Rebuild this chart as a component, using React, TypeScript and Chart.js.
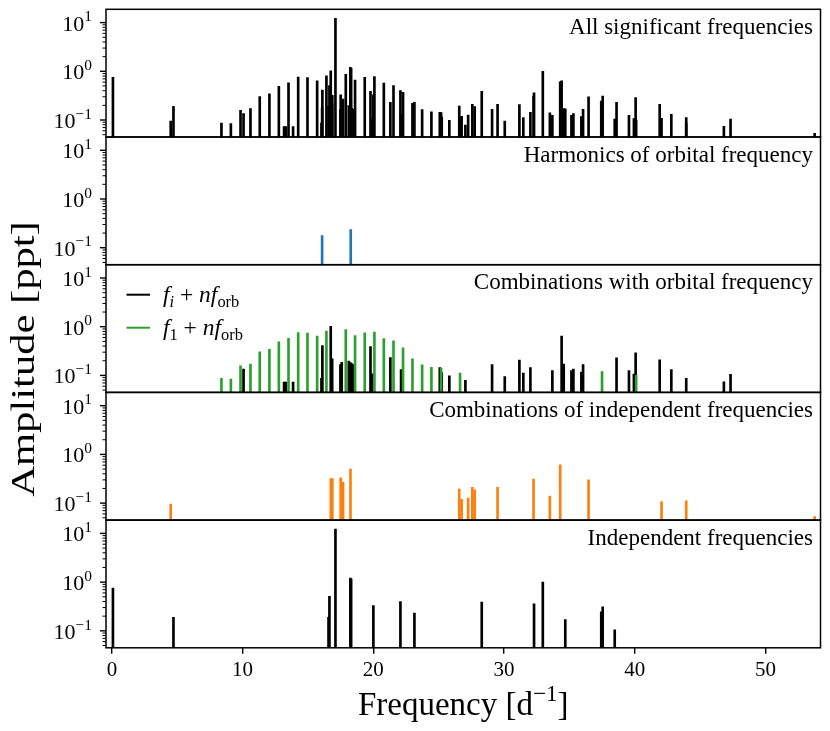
import React, { useEffect, useRef } from 'react';
import { Chart, registerables } from 'chart.js';

Chart.register(...registerables);

// ---------------- data ----------------
const panelTitles = [
  'All significant frequencies',
  'Harmonics of orbital frequency',
  'Combinations with orbital frequency',
  'Combinations of independent frequencies',
  'Independent frequencies',
];

// Harmonics of orbital frequency (blue)
const harmonicsFreq = [16.08, 18.27];
const harmonicsAmp = [0.177, 0.235];

// Combinations with orbital frequency: f_i + n f_orb (black)
const combOrbFreq = [
  10.07, 13.17, 13.3, 13.86, 16.03, 16.1, 16.74, 16.85, 17.48, 17.58, 18.12, 18.22, 18.35, 18.5,
  19.78, 19.9, 21.3, 22.12, 25.08, 25.23, 25.81, 27.04, 29.08, 30.05, 31.17, 31.47, 32.01, 33.69,
  34.4, 34.56, 35.15, 35.3, 35.91, 36.04, 38.6, 39.55, 39.93, 40.06, 41.9, 42.79, 43.93, 46.81, 47.32,
];
const combOrbAmp = [
  0.135, 0.073, 0.073, 0.073, 0.087, 0.41, 1.02, 0.218, 0.166, 0.186, 0.198, 0.186, 0.174, 0.166,
  0.39, 0.108, 0.232, 0.131, 0.144, 0.115, 0.098, 0.079, 0.166, 0.095, 0.207, 0.112, 0.144, 0.125,
  0.64, 0.171, 0.125, 0.135, 0.117, 0.166, 0.23, 0.125, 0.107, 0.29, 0.21, 0.131, 0.087, 0.074, 0.105,
];

// Combinations with orbital frequency: f_1 + n f_orb (green)
const combF1Freq = [
  8.38, 9.1, 9.84, 10.6, 11.31, 12.05, 12.77, 13.51, 14.25, 14.96, 15.7, 16.41, 17.89, 18.6, 19.34,
  20.08, 20.8, 21.54, 22.27, 22.99, 23.73, 24.44, 25.18, 26.63, 37.49, 40.1,
];
const combF1Amp = [
  0.087, 0.084, 0.158, 0.171, 0.304, 0.345, 0.49, 0.58, 0.76, 0.74, 0.64, 0.81, 0.87, 0.66, 0.75,
  0.78, 0.57, 0.51, 0.37, 0.22, 0.164, 0.147, 0.142, 0.112, 0.12, 0.1,
];

// Combinations of independent frequencies (orange)
const combIndFreq = [
  4.5, 16.75, 16.86, 17.5, 17.68, 18.25, 26.57, 26.75, 27.25, 27.57, 27.75, 29.5, 32.25, 33.5,
  34.29, 36.46, 42.04, 43.93, 53.75,
];
const combIndAmp = [
  0.095, 0.32, 0.32, 0.33, 0.27, 0.5, 0.194, 0.119, 0.127, 0.21, 0.188, 0.21, 0.31, 0.14,
  0.61, 0.3, 0.108, 0.112, 0.053,
];

// Independent frequencies (black)
const indepFreq = [
  0.08, 4.71, 16.57, 16.64, 17.1, 18.24, 18.3, 20.0, 22.07, 23.14, 28.29, 32.29, 32.96, 34.68,
  37.43, 37.54, 38.46,
];
const indepAmp = [
  0.75, 0.19, 0.19, 0.51, 12.3, 1.21, 1.15, 0.33, 0.4, 0.23, 0.39, 0.36, 1.0, 0.17,
  0.245, 0.31, 0.105,
];

// All significant frequencies = union of the above
const allFreq = [...harmonicsFreq, ...combOrbFreq, ...combF1Freq, ...combIndFreq, ...indepFreq];
const allAmp = [...harmonicsAmp, ...combOrbAmp, ...combF1Amp, ...combIndAmp, ...indepAmp];

const xTickValues = [0, 10, 20, 30, 40, 50];
const yMajorTicks = [0.1, 1, 10];
const yMajorExp = ['\u22121', '0', '1'];
const yMinorTicks = [
  0.05, 0.06, 0.07, 0.08, 0.09, 0.2, 0.3, 0.4, 0.5, 0.6, 0.7, 0.8, 0.9, 2, 3, 4, 5, 6, 7, 8, 9,
];

// ---------------- layout / style ----------------
const W = 830;
const H = 731;
const PLOT_LEFT = 106;
const PLOT_RIGHT = 820.5;
const PLOT_TOP = 9.3;
const PLOT_BOTTOM = 647.8;
const X_AXIS_H = 40;
const X_MIN = -0.45;
const X_MAX = 54.2;
const Y_MIN = 0.0448;
const Y_MAX = 18.75;
const FONT = '"Liberation Serif", "Times New Roman", serif';

const BLACK = '#000000';
const BLUE = '#1f77b4';
const ORANGE = '#ff7f0e';
const GREEN = '#2ca02c';

type Series = { freq: number[]; amp: number[]; color: string };
type Seg = { t: string; it?: boolean; sub?: boolean; sup?: boolean };

const panelSeries: Series[][] = [
  [{ freq: allFreq, amp: allAmp, color: BLACK }],
  [{ freq: harmonicsFreq, amp: harmonicsAmp, color: BLUE }],
  [
    { freq: combF1Freq, amp: combF1Amp, color: GREEN },
    { freq: combOrbFreq, amp: combOrbAmp, color: BLACK },
  ],
  [{ freq: combIndFreq, amp: combIndAmp, color: ORANGE }],
  [{ freq: indepFreq, amp: indepAmp, color: BLACK }],
];

function drawSegs(
  ctx: CanvasRenderingContext2D,
  segs: Seg[],
  x: number,
  y: number,
  size: number,
  align: 'left' | 'center' | 'right',
) {
  const fontFor = (s: Seg) =>
    `${s.it ? 'italic ' : ''}${s.sub || s.sup ? size * 0.7 : size}px ${FONT}`;
  let total = 0;
  const widths = segs.map((s) => {
    ctx.font = fontFor(s);
    const w = ctx.measureText(s.t).width;
    total += w;
    return w;
  });
  let cx = align === 'left' ? x : align === 'center' ? x - total / 2 : x - total;
  ctx.textAlign = 'left';
  ctx.textBaseline = 'alphabetic';
  segs.forEach((s, i) => {
    ctx.font = fontFor(s);
    const dy = s.sub ? size * 0.22 : s.sup ? -size * 0.42 : 0;
    ctx.fillText(s.t, cx, y + dy);
    cx += widths[i];
  });
}

function makeDecor(index: number, isBottom: boolean) {
  return {
    id: 'decor' + index,
    afterDraw(chart: any) {
      const ctx: CanvasRenderingContext2D = chart.ctx;
      const { left, right, top, bottom } = chart.chartArea;
      const ys = chart.scales.y;
      ctx.save();
      ctx.fillStyle = '#000';
      ctx.strokeStyle = '#000';

      // frame
      ctx.lineWidth = 1.5;
      ctx.strokeRect(left, top, right - left, bottom - top);

      // y minor ticks
      ctx.lineWidth = 1;
      for (const v of yMinorTicks) {
        const py = ys.getPixelForValue(v);
        if (py < top || py > bottom) continue;
        ctx.beginPath();
        ctx.moveTo(left - 3.5, py);
        ctx.lineTo(left, py);
        ctx.stroke();
      }
      // y major ticks + labels
      ctx.lineWidth = 1.4;
      yMajorTicks.forEach((v, i) => {
        const py = ys.getPixelForValue(v);
        if (py < top || py > bottom) return;
        ctx.beginPath();
        ctx.moveTo(left - 6, py);
        ctx.lineTo(left, py);
        ctx.stroke();
        drawSegs(ctx, [{ t: '10' }, { t: yMajorExp[i], sup: true }], left - 14, py + 8, 22, 'right');
      });

      // panel title
      ctx.font = `23px ${FONT}`;
      ctx.textAlign = 'right';
      ctx.textBaseline = 'alphabetic';
      ctx.fillText(panelTitles[index], right - 7.5, top + 24.5);

      // legend for combinations panel
      if (index === 2) {
        const rows: { color: string; segs: Seg[] }[] = [
          {
            color: BLACK,
            segs: [
              { t: 'f', it: true },
              { t: 'i', it: true, sub: true },
              { t: ' + ' },
              { t: 'nf', it: true },
              { t: 'orb', sub: true },
            ],
          },
          {
            color: GREEN,
            segs: [
              { t: 'f', it: true },
              { t: '1', sub: true },
              { t: ' + ' },
              { t: 'nf', it: true },
              { t: 'orb', sub: true },
            ],
          },
        ];
        rows.forEach((r, k) => {
          const ly = top + 30 + k * 33;
          ctx.strokeStyle = r.color;
          ctx.lineWidth = 2;
          ctx.beginPath();
          ctx.moveTo(left + 20.5, ly);
          ctx.lineTo(left + 44, ly);
          ctx.stroke();
          ctx.fillStyle = '#000';
          drawSegs(ctx, r.segs, left + 57, ly + 7.5, 23.5, 'left');
        });
        // y-axis label (shared)
        ctx.save();
        ctx.fillStyle = '#000';
        ctx.translate(33.5, 359);
        ctx.rotate(-Math.PI / 2);
        ctx.scale(1.29, 1);
        ctx.font = `33px ${FONT}`;
        ctx.textAlign = 'center';
        ctx.textBaseline = 'alphabetic';
        ctx.fillText('Amplitude [ppt]', 0, 0);
        ctx.restore();
      }

      if (isBottom) {
        ctx.fillStyle = '#000';
        drawSegs(
          ctx,
          [{ t: 'Frequency [d' }, { t: '\u22121', sup: true }, { t: ']' }],
          (left + right) / 2,
          715,
          33,
          'center',
        );
      }
      ctx.restore();
    },
  };
}

export default function App() {
  const refs = useRef<(HTMLCanvasElement | null)[]>([]);

  useEffect(() => {
    const charts: Chart[] = [];
    const ph = (PLOT_BOTTOM - PLOT_TOP) / 5;
    panelSeries.forEach((series, idx) => {
      const canvas = refs.current[idx];
      if (!canvas) return;
      const isBottom = idx === 4;
      const top = PLOT_TOP + idx * ph;
      const bottom = top + ph;
      const cfg: any = {
        type: 'bar',
        data: {
          datasets: series.map((s) => ({
            data: s.freq.map((f, i) => ({ x: f, y: s.amp[i] })),
            backgroundColor: s.color,
            borderWidth: 0,
            barThickness: 2,
            grouped: false,
          })),
        },
        options: {
          responsive: false,
          maintainAspectRatio: false,
          animation: false,
          events: [],
          layout: {
            padding: {
              left: PLOT_LEFT,
              right: W - PLOT_RIGHT,
              top: top,
              bottom: isBottom ? H - bottom - X_AXIS_H : H - bottom,
            },
          },
          plugins: { legend: { display: false }, tooltip: { enabled: false } },
          scales: {
            x: {
              type: 'linear',
              min: X_MIN,
              max: X_MAX,
              offset: false,
              display: isBottom,
              grid: {
                display: true,
                offset: false,
                drawOnChartArea: false,
                drawTicks: true,
                tickLength: 6,
                color: '#000',
                lineWidth: 1.4,
              },
              border: { display: false },
              ticks: {
                font: { family: FONT, size: 21 },
                color: '#000',
                padding: 4,
                maxRotation: 0,
                autoSkip: false,
              },
              afterBuildTicks: (s: any) => {
                s.ticks = xTickValues.map((v) => ({ value: v }));
              },
              afterFit: (s: any) => {
                s.height = isBottom ? X_AXIS_H : 0;
              },
            },
            y: {
              type: 'logarithmic',
              min: Y_MIN,
              max: Y_MAX,
              display: false,
            },
          },
        },
        plugins: [makeDecor(idx, isBottom)],
      };
      charts.push(new Chart(canvas, cfg));
    });
    return () => charts.forEach((c) => c.destroy());
  }, []);

  return (
    <div style={{ position: 'absolute', left: 0, top: 0, width: W, height: H, background: '#fff' }}>
      {panelSeries.map((_, i) => (
        <canvas
          key={i}
          ref={(el) => {
            refs.current[i] = el;
          }}
          width={W}
          height={H}
          style={{ position: 'absolute', left: 0, top: 0, width: W, height: H }}
        />
      ))}
    </div>
  );
}
